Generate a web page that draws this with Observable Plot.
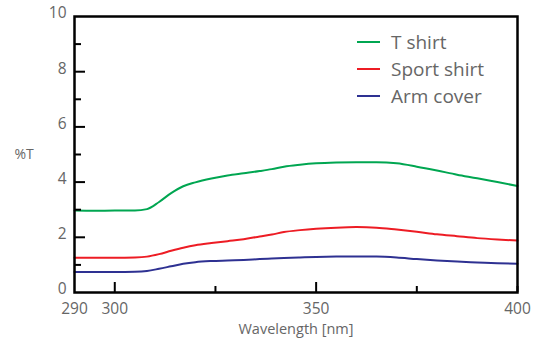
<!DOCTYPE html>
<html><head><meta charset="utf-8">
<script src="https://cdn.jsdelivr.net/npm/d3@7"></script>
<script src="https://cdn.jsdelivr.net/npm/@observablehq/plot@0.6"></script>
<style>
body{margin:0;background:#fff;font-family:"Open Sans",Lato,sans-serif;}
#wrap{position:relative;width:540px;height:340px;}
#legend{position:absolute;left:357px;top:28px;color:#666;font-size:19px;}
#legend .row{display:flex;align-items:center;height:27px;}
#legend .sw{width:23px;height:2px;margin-right:11px;}
</style></head>
<body><div id="wrap"><div id="legend"></div></div>
<script>
const wavelengths = [290,295,300,305,308,311,314,317,320,324,328,332,336,339,342,346,350,355,360,365,370,375,380,385,390,395,400];
const tShirt     = [2.97,2.96,2.97,2.97,3.02,3.28,3.60,3.85,3.99,4.13,4.24,4.32,4.40,4.47,4.56,4.63,4.68,4.71,4.72,4.72,4.68,4.56,4.42,4.27,4.14,4.00,3.86];
const sportShirt = [1.26,1.26,1.26,1.27,1.30,1.39,1.51,1.62,1.71,1.79,1.86,1.93,2.03,2.10,2.19,2.26,2.31,2.35,2.37,2.35,2.28,2.20,2.11,2.04,1.97,1.92,1.88];
const armCover   = [0.74,0.74,0.74,0.75,0.78,0.86,0.95,1.04,1.10,1.14,1.16,1.18,1.21,1.23,1.25,1.27,1.29,1.30,1.30,1.30,1.27,1.21,1.16,1.12,1.09,1.06,1.04];
const seriesNames = ["T shirt","Sport shirt","Arm cover"];
const seriesColors = ["#00a651","#ed1c24","#2e3192"];
const xTickLabels = [290,300,350,400];
const xMajorTicks = [300,350];
const xMinorTicks = [325,375,400];
const yTickLabels = [0,2,4,6,8,10];
const yMajorTicks = [2,4,6,8];
const yMinorTicks = [1,3,5,7,9];

const allSeries = [tShirt, sportShirt, armCover];
const rows = [];
allSeries.forEach((vals, i) => vals.forEach((v, j) => rows.push({name: seriesNames[i], x: wavelengths[j], y: v})));

const font = "'Open Sans', Lato, sans-serif";
const chart = Plot.plot({
  width: 540, height: 340,
  marginLeft: 74, marginRight: 23, marginTop: 16, marginBottom: 48,
  style: {fontFamily: font, fontSize: "15.5px", color: "#666", background: "white"},
  x: {domain: [290, 400]},
  y: {domain: [0, 10]},
  color: {domain: seriesNames, range: seriesColors},
  marks: [
    Plot.lineY(rows, {x: "x", y: "y", stroke: "name", strokeWidth: 2, curve: "monotone-x"}),
    Plot.axisY({ticks: yTickLabels, tickSize: 0, tickPadding: 8, dy: -3, label: null, fill: "#666"}),
    Plot.axisY({ticks: yMajorTicks, tickSize: -11, tickFormat: () => "", label: null, stroke: "black", strokeWidth: 2}),
    Plot.axisY({ticks: yMinorTicks, tickSize: -7, tickFormat: () => "", label: null, stroke: "black", strokeWidth: 2}),
    Plot.axisX({ticks: xTickLabels, tickSize: 0, tickPadding: 10, label: null, fill: "#666"}),
    Plot.axisX({ticks: xMajorTicks, tickSize: -10, tickFormat: () => "", label: null, stroke: "black", strokeWidth: 2}),
    Plot.axisX({ticks: xMinorTicks, tickSize: -6, tickFormat: () => "", label: null, stroke: "black", strokeWidth: 2}),
    Plot.frame({stroke: "black", strokeWidth: 2.5}),
    Plot.text(["%T"], {frameAnchor: "left", dx: -60, textAnchor: "start", fill: "#666", fontSize: 14}),
    Plot.text(["Wavelength [nm]"], {frameAnchor: "bottom", dy: 41, fill: "#666", fontSize: 14.5})
  ]
});
document.getElementById("wrap").prepend(chart);
const legend = document.getElementById("legend");
seriesNames.forEach((n, i) => {
  const r = document.createElement("div"); r.className = "row";
  const s = document.createElement("div"); s.className = "sw"; s.style.background = seriesColors[i];
  const t = document.createElement("span"); t.textContent = n;
  r.append(s, t); legend.append(r);
});
</script></body></html>
